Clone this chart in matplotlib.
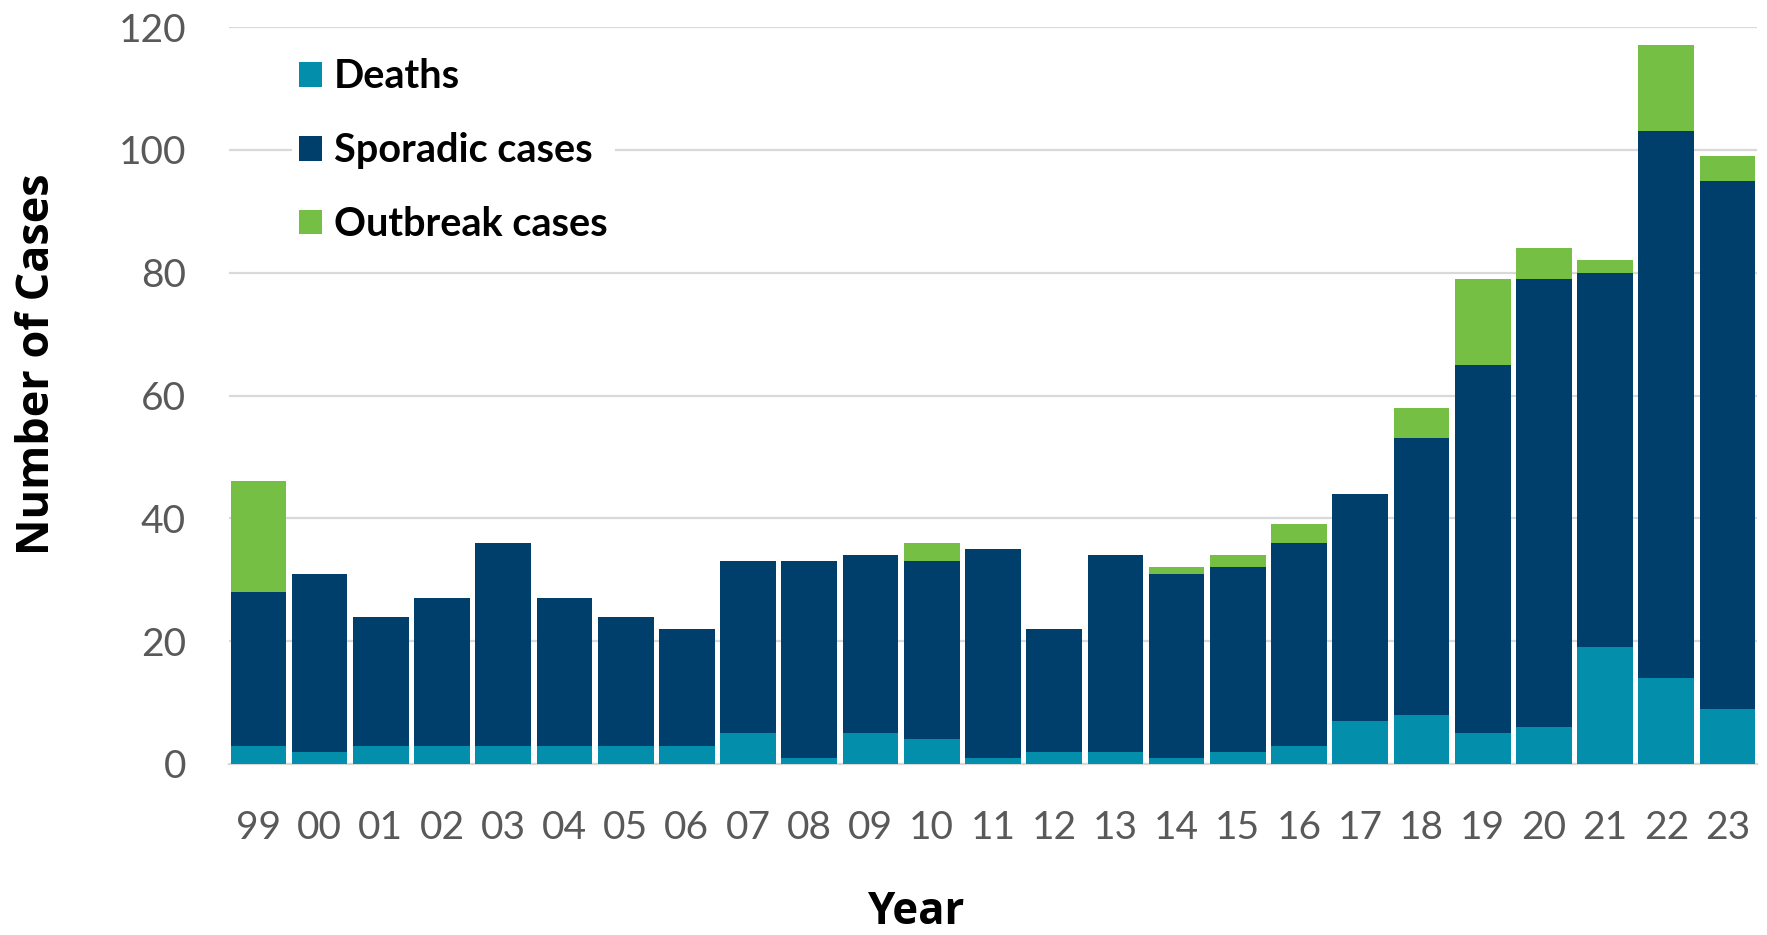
import numpy as np
import matplotlib
matplotlib.use('Agg')
import matplotlib.pyplot as plt

plt.rcParams['font.family'] = ['Lato', 'DejaVu Sans']

# data
years = ['99', '00', '01', '02', '03', '04', '05', '06', '07', '08', '09', '10',
         '11', '12', '13', '14', '15', '16', '17', '18', '19', '20', '21', '22', '23']
deaths = [3, 2, 3, 3, 3, 3, 3, 3, 5, 1, 5, 4, 1, 2, 2, 1, 2, 3, 7, 8, 5, 6, 19, 14, 9]
sporadic = [28, 31, 24, 27, 36, 27, 24, 22, 33, 33, 34, 33, 35, 22, 34, 31, 32, 36,
            44, 53, 65, 79, 80, 103, 95]
outbreak = [18, 0, 0, 0, 0, 0, 0, 0, 0, 0, 0, 3, 0, 0, 0, 1, 2, 3, 0, 5, 14, 5, 2, 14, 4]

c_deaths = '#038FAB'
c_spor = '#003F6B'
c_out = '#74BF44'

fig = plt.figure(figsize=(17.67, 9.35), dpi=100)
ax = fig.add_axes([0.1296, 0.1829, 0.8647, 0.7882])

x = np.arange(len(years))
w = 0.91
ax.bar(x, sporadic, width=w, color=c_spor, label='Sporadic cases', zorder=2)
ax.bar(x, deaths, width=w, color=c_deaths, label='Deaths', zorder=3)
ax.bar(x, outbreak, width=w, bottom=sporadic, color=c_out, label='Outbreak cases', zorder=2)

ax.set_xlim(-0.48, len(years) - 0.52)
ax.set_ylim(0, 120)
ax.set_yticks(range(0, 121, 20))
ax.set_xticks(x)
ax.set_xticklabels(years)
ax.grid(axis='y', color='#D9D9D9', linewidth=1.6)
ax.set_axisbelow(True)
for s in ['top', 'right', 'left']:
    ax.spines[s].set_visible(False)
ax.spines['bottom'].set_color('#D9D9D9')
ax.spines['bottom'].set_linewidth(1.6)
ax.tick_params(axis='both', length=0, labelsize=28, labelcolor='#595959')
ax.tick_params(axis='x', pad=33)
ax.tick_params(axis='y', pad=31)

# legend order: Deaths, Sporadic, Outbreak
h, l = ax.get_legend_handles_labels()
order = [1, 0, 2]
leg = ax.legend([h[i] for i in order], [l[i] for i in order],
                loc='upper left', bbox_to_anchor=(0.165, 0.946),
                bbox_transform=fig.transFigure, frameon=True, facecolor='white',
                edgecolor='none', framealpha=1, fancybox=False,
                prop={'family': ['Lato', 'DejaVu Sans'], 'weight': 'bold', 'size': 28.5},
                handlelength=0.58, handleheight=0.58, handletextpad=0.28,
                labelspacing=0.93, borderpad=0.2, borderaxespad=0)

fig.text(0.519, 0.012, 'Year', ha='center', va='baseline', fontsize=31.5,
         fontweight='bold', family=['Open Sans', 'DejaVu Sans'])
fig.text(0.021, 0.61, 'Number of Cases', ha='center', va='center', rotation=90,
         fontsize=32.4, fontweight='bold', family=['Open Sans', 'DejaVu Sans'])

fig.savefig('out.png', dpi=100)
